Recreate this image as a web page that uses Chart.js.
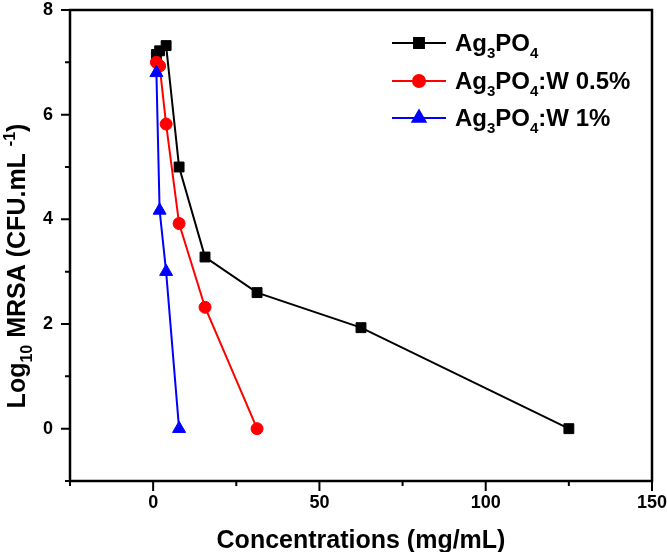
<!DOCTYPE html>
<html>
<head>
<meta charset="utf-8">
<script src="https://cdn.jsdelivr.net/npm/chart.js@4"></script>
<style>
html,body{margin:0;padding:0;background:#fff;}
#wrap{width:667px;height:552px;position:relative;}
</style>
</head>
<body>
<div id="wrap"><canvas id="c" width="667" height="552"></canvas></div>
<script>
// ---- data ----
const seriesNames = ["Ag₃PO₄", "Ag₃PO₄:W 0.5%", "Ag₃PO₄:W 1%"];
const concAg = [0.98, 1.95, 3.9, 7.8, 15.6, 31.25, 62.5, 125];
const logAg  = [7.15, 7.22, 7.32, 5.0, 3.28, 2.6, 1.93, 0];
const concW05 = [0.98, 1.95, 3.9, 7.8, 15.6, 31.25];
const logW05  = [7.0, 6.93, 5.82, 3.92, 2.32, 0];
const concW1 = [0.98, 1.95, 3.9, 7.8];
const logW1  = [6.8, 4.17, 3.0, 0];
const xTickLabels = [0, 50, 100, 150];
const xMinorTicks = [-25, 25, 75, 125];
const yTickLabels = [0, 2, 4, 6, 8];
const yMinorTicks = [-1, 1, 3, 5, 7];
const xTitle = "Concentrations (mg/mL)";
const yTitle = "Log₁₀ MRSA (CFU.mL ⁻¹)";

const FONT = "'Liberation Sans', Arial, sans-serif";
const colors = ["#000000", "#ff0000", "#0000ff"];
const styles = ["rect", "circle", "triangle"];
const radii = [7, 6, 7.5];

function pts(xs, ys){ return xs.map((x,i)=>({x:x, y:ys[i]})); }

const SUB = {"₀":"0","₁":"1","₂":"2","₃":"3","₄":"4","₅":"5","₆":"6","₇":"7","₈":"8","₉":"9"};
const SUP = {"⁻":"-","¹":"1","⁰":"0","²":"2","³":"3"};
function segs(str){
  const out=[]; let cur={t:"",k:0};
  for(const ch of str){
    let k=0, c=ch;
    if(SUB[ch]!==undefined){k=1;c=SUB[ch];}
    else if(SUP[ch]!==undefined){k=2;c=SUP[ch];}
    if(k!==cur.k){ if(cur.t) out.push(cur); cur={t:"",k:k}; }
    cur.t+=c;
  }
  if(cur.t) out.push(cur);
  return out;
}
function richWidth(ctx, str, size, weight){
  let w=0;
  for(const s of segs(str)){
    ctx.font = weight+" "+(s.k? Math.round(size*0.62):size)+"px "+FONT;
    w+=ctx.measureText(s.t).width;
  }
  return w;
}
function richText(ctx, str, x, y, size, weight){
  ctx.textBaseline="alphabetic"; ctx.textAlign="left";
  for(const s of segs(str)){
    const sz = s.k? Math.round(size*0.62):size;
    ctx.font = weight+" "+sz+"px "+FONT;
    const dy = s.k===1 ? size*0.28 : (s.k===2 ? -size*0.42 : 0);
    ctx.fillText(s.t, x, y+dy);
    x += ctx.measureText(s.t).width;
  }
}

const decor = {
  id:"decor",
  afterDraw(chart){
    const ctx=chart.ctx, a=chart.chartArea, xs=chart.scales.x, ys=chart.scales.y;
    ctx.save();
    ctx.strokeStyle="#000"; ctx.lineWidth=2.5;
    ctx.strokeRect(a.left, a.top, a.right-a.left, a.bottom-a.top);
    ctx.lineWidth=2;
    ctx.beginPath();
    xTickLabels.forEach(v=>{const p=xs.getPixelForValue(v); ctx.moveTo(p,a.bottom); ctx.lineTo(p,a.bottom+10);});
    xMinorTicks.forEach(v=>{const p=xs.getPixelForValue(v); ctx.moveTo(p,a.bottom); ctx.lineTo(p,a.bottom+5);});
    yTickLabels.forEach(v=>{const p=ys.getPixelForValue(v); ctx.moveTo(a.left,p); ctx.lineTo(a.left-9,p);});
    yMinorTicks.forEach(v=>{const p=ys.getPixelForValue(v); ctx.moveTo(a.left,p); ctx.lineTo(a.left-5,p);});
    ctx.stroke();
    ctx.fillStyle="#000";
    const ysz=25;
    const w = richWidth(ctx, yTitle, ysz, "bold");
    ctx.translate(25, 266);
    ctx.rotate(-Math.PI/2);
    richText(ctx, yTitle, -w/2, 0, ysz, "bold");
    ctx.restore();
    // legend
    ctx.save();
    const rows=[43,81,118];
    chart.data.datasets.forEach((ds,i)=>{
      const y=rows[i];
      ctx.strokeStyle=ds.borderColor; ctx.lineWidth=2;
      ctx.beginPath(); ctx.moveTo(392,y); ctx.lineTo(446,y); ctx.stroke();
      ctx.fillStyle=ds.borderColor;
      ctx.strokeStyle=ds.borderColor;
      Chart.helpers.drawPoint(ctx,{pointStyle:ds.pointStyle, radius:ds.pointRadius, borderWidth:1}, 419, y);
      ctx.fillStyle="#000";
      richText(ctx, ds.label, 455, y+8, 24, "bold");
    });
    ctx.restore();
  }
};

const datasets = [pts(concAg,logAg), pts(concW05,logW05), pts(concW1,logW1)].map((d,i)=>({
  label: seriesNames[i],
  data: d,
  showLine: true,
  borderColor: colors[i],
  backgroundColor: colors[i],
  borderWidth: 2,
  pointStyle: styles[i],
  pointRadius: radii[i],
  pointHoverRadius: radii[i],
  pointBorderWidth: 1,
  order: 2-i
}));

new Chart(document.getElementById("c"), {
  type: "scatter",
  data: { datasets },
  plugins: [decor],
  options: {
    responsive: false,
    animation: false,
    devicePixelRatio: 1,
    layout: { padding: { top: 10, right: 15, left: 0, bottom: 0 } },
    plugins: { legend: { display: false }, tooltip: { enabled: false } },
    scales: {
      x: {
        type: "linear", min: -25, max: 150,
        afterBuildTicks: s => { s.ticks = xTickLabels.map(v=>({value:v})); },
        afterFit: s => { s.height = 71; s.paddingLeft = 0; s.paddingRight = 0; },
        grid: { display: false, drawTicks: false },
        border: { display: false },
        ticks: { color: "#000", font: { family: FONT, size: 18, weight: "bold" }, padding: 11, maxRotation: 0 },
        title: { display: true, text: xTitle, color: "#000", font: { family: FONT, size: 25, weight: "bold" }, padding: { top: 0, bottom: -4 } }
      },
      y: {
        type: "linear", min: -1, max: 8,
        afterBuildTicks: s => { s.ticks = yTickLabels.map(v=>({value:v})); },
        afterFit: s => { s.width = 70; s.paddingTop = 0; s.paddingBottom = 0; },
        grid: { display: false, drawTicks: false },
        border: { display: false },
        ticks: { color: "#000", font: { family: FONT, size: 18, weight: "bold" }, padding: 17 },
        title: { display: false, text: yTitle }
      }
    }
  }
});
</script>
</body>
</html>
